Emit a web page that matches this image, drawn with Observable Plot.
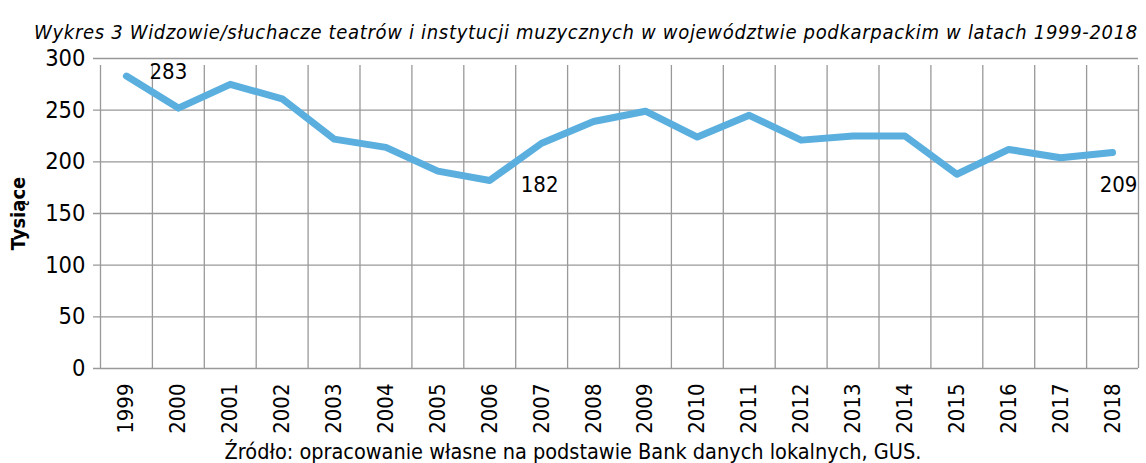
<!DOCTYPE html>
<html>
<head>
<meta charset="utf-8">
<script src="https://cdn.jsdelivr.net/npm/d3@7"></script>
<script src="https://cdn.jsdelivr.net/npm/@observablehq/plot@0.6"></script>
<style>
  body { margin: 0; background: #fff; font-family: "Liberation Sans Narrow", "Arial Narrow", "DejaVu Sans Condensed", sans-serif; }
  #title { height: 45px; line-height: 64px; text-align: center; font-style: italic; font-size: 20px; letter-spacing: 0.68px; color: #000; white-space: nowrap; padding-left: 26px; }
  #caption { height: 26px; line-height: 26px; text-align: center; font-size: 21.5px; color: #000; white-space: nowrap; margin-top: 2px; }
  svg { display: block; }
</style>
</head>
<body>
<div id="title">Wykres 3 Widzowie/słuchacze teatrów i instytucji muzycznych w województwie podkarpackim w latach 1999-2018</div>
<div id="chart"></div>
<div id="caption">Źródło: opracowanie własne na podstawie Bank danych lokalnych, GUS.</div>
<script>
const years = [1999, 2000, 2001, 2002, 2003, 2004, 2005, 2006, 2007, 2008, 2009, 2010, 2011, 2012, 2013, 2014, 2015, 2016, 2017, 2018];
const values = [283, 252, 275, 261, 222, 214, 191, 182, 218, 239, 249, 224, 245, 221, 225, 225, 188, 212, 204, 209];
const yTicks = [0, 50, 100, 150, 200, 250, 300];
const labelFirst = [1999];
const labelMin = [2006];
const labelLast = [2018];
const yLabel = "Tysiące";

const data = years.map((y, i) => ({year: y, value: values[i]}));
const bounds = years.map(y => y - 0.5).concat([years[years.length - 1] + 0.5]);
const pick = ys => data.filter(d => ys.includes(d.year));
const font = '"Liberation Sans Narrow", "Arial Narrow", "DejaVu Sans Condensed", sans-serif';

const chart = Plot.plot({
  width: 1146,
  height: 392,
  marginTop: 13,
  marginBottom: 69,
  marginLeft: 100,
  marginRight: 8,
  style: {fontFamily: font, fontSize: "19px", color: "#000", background: "#fff"},
  x: {domain: [bounds[0], bounds[bounds.length - 1]], axis: null},
  y: {domain: [0, 300], axis: null},
  marks: [
    Plot.ruleY(yTicks, {x1: bounds[0], x2: bounds[bounds.length - 1], stroke: "#999999", strokeWidth: 1.3, insetLeft: -7}),
    Plot.ruleX(bounds, {y1: 0, y2: 300, stroke: "#999999", strokeWidth: 1.3, insetBottom: -7}),
    Plot.text(yTicks, {x: bounds[0], y: d => d, text: d => String(d), textAnchor: "end", dx: -15, fontSize: 23.5, fill: "#000"}),
    Plot.text(years, {x: d => d, y: 0, text: d => String(d), rotate: -90, textAnchor: "end", dy: 15, fontSize: 22, fill: "#000"}),
    Plot.line(data, {x: "year", y: "value", stroke: "#5aafdf", strokeWidth: 7, strokeLinejoin: "round", strokeLinecap: "round"}),
    Plot.text(pick(labelFirst), {x: "year", y: "value", text: d => String(d.value), textAnchor: "start", dx: 23, dy: -4, fontSize: 22, fill: "#000"}),
    Plot.text(pick(labelMin), {x: "year", y: "value", text: d => String(d.value), textAnchor: "start", dx: 31, dy: 5, fontSize: 22, fill: "#000"}),
    Plot.text(pick(labelLast), {x: "year", y: "value", text: d => String(d.value), textAnchor: "middle", dx: 6, dy: 32, fontSize: 22, fill: "#000"}),
    Plot.text([yLabel], {x: bounds[0], y: 150, text: d => d, rotate: -90, dx: -82, fontWeight: "bold", fontSize: 20, fill: "#000"})
  ]
});
document.getElementById("chart").appendChild(chart);
</script>
</body>
</html>
